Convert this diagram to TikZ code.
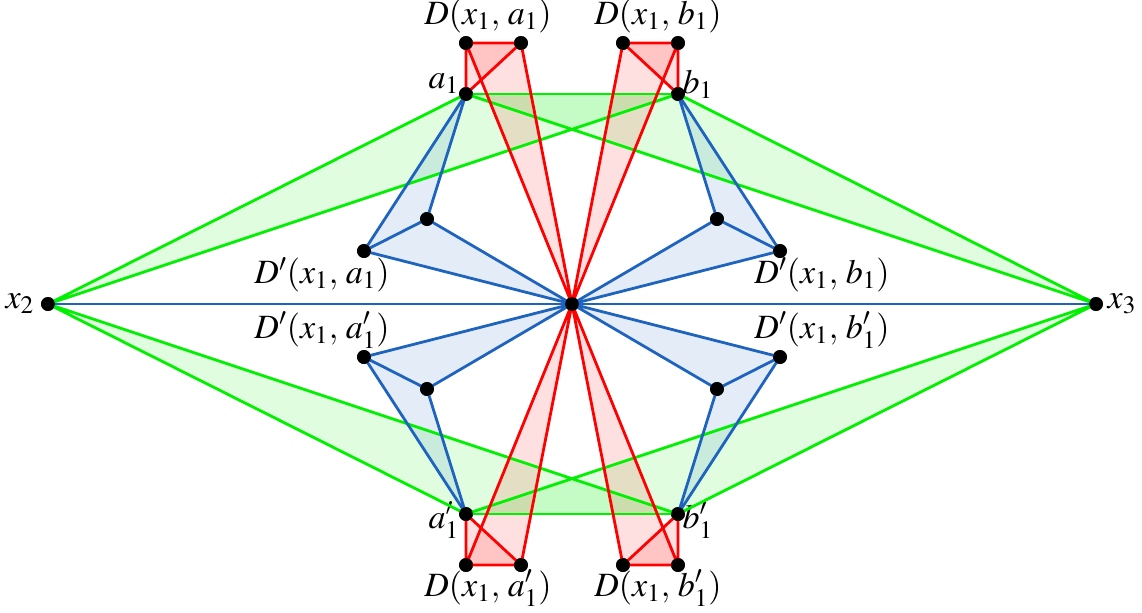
\documentclass[tikz,border=0pt]{standalone}
\usepackage{mathptmx}
\usepackage{tikz}
\definecolor{lred}{RGB}{255,0,0}
\definecolor{lgreen}{RGB}{0,240,0}
\definecolor{lblue}{RGB}{30,100,190}

\tikzset{
  dot/.style={circle,fill=black,inner sep=0pt,minimum size=7pt},
  redline/.style={draw=lred,line width=1.4pt},
  greenline/.style={draw=lgreen,line width=1.4pt},
  blueline/.style={draw=lblue,line width=1.4pt},
  redfill/.style={fill=lred,fill opacity=0.12},
  greenfill/.style={fill=lgreen,fill opacity=0.12},
  bluefill/.style={fill=lblue,fill opacity=0.12},
  lbl/.style={inner sep=0pt,font=\fontsize{17}{20}\selectfont}
}

\begin{document}
\begin{tikzpicture}[line join=round]

\newcommand\YA{105}
\newcommand\YD{130.5}

  \useasboundingbox (-286pt,-154pt) rectangle (285pt,152pt);

  %% points
  \node[dot] (x1) at (0pt,0pt) {};
  \node[dot] (x2) at (-262pt,0pt) {};
  \node[dot] (x3) at ( 262pt,0pt) {};
  \node[dot] (a1)  at (-53pt, \YA pt) {};
  \node[dot] (b1)  at ( 53pt, \YA pt) {};
  \node[dot] (a1p) at (-53pt,-\YA pt) {};
  \node[dot] (b1p) at ( 53pt,-\YA pt) {};

  %% D points
  \node[dot] (Da1A)  at (-53pt, \YD pt) {};
  \node[dot] (Da1B)  at (-25.5pt, \YD pt) {};
  \node[dot] (Db1A)  at ( 25.5pt, \YD pt) {};
  \node[dot] (Db1B)  at ( 53pt, \YD pt) {};
  \node[dot] (Da1pA) at (-53pt,-\YD pt) {};
  \node[dot] (Da1pB) at (-25.5pt,-\YD pt) {};
  \node[dot] (Db1pA) at ( 25.5pt,-\YD pt) {};
  \node[dot] (Db1pB) at ( 53pt,-\YD pt) {};

  %% D' points
  \node[dot] (Ea1A)  at (-104pt, 26.5pt) {};
  \node[dot] (Ea1B)  at (-72.5pt, 42.5pt) {};
  \node[dot] (Eb1A)  at ( 72.5pt, 42.5pt) {};
  \node[dot] (Eb1B)  at ( 104pt, 26.5pt) {};
  \node[dot] (Ea1pA) at (-104pt,-26.5pt) {};
  \node[dot] (Ea1pB) at (-72.5pt,-42.5pt) {};
  \node[dot] (Eb1pA) at ( 72.5pt,-42.5pt) {};
  \node[dot] (Eb1pB) at ( 104pt,-26.5pt) {};

  %% labels
  \node[lbl] (lx2) at (-276pt,0pt) {$x_2$};
  \node[lbl] (lx3) at ( 275pt,0pt) {$x_3$};
  \node[lbl] (la1)  at (-64pt, 110pt) {$a_1$};
  \node[lbl] (lb1)  at ( 63pt, 110pt) {$b_1$};
  \node[lbl] (la1p) at (-64pt,-108pt) {$a'_1$};
  \node[lbl] (lb1p) at ( 63pt,-108pt) {$b'_1$};
  \node[lbl] (lDa1)  at (-42pt, 144pt) {$D(x_1,\,a_1)$};
  \node[lbl] (lDb1)  at ( 43pt, 144pt) {$D(x_1,\,b_1)$};
  \node[lbl] (lDa1p) at (-42pt,-142pt) {$D(x_1,\,a'_1)$};
  \node[lbl] (lDb1p) at ( 43pt,-142pt) {$D(x_1,\,b'_1)$};
  \node[lbl] (lEa1)  at (-125pt, 14.5pt) {$D'(x_1,\,a_1)$};
  \node[lbl] (lEb1)  at ( 125pt, 14.5pt) {$D'(x_1,\,b_1)$};
  \node[lbl] (lEa1p) at (-125pt,-13pt) {$D'(x_1,\,a'_1)$};
  \node[lbl] (lEb1p) at ( 125pt,-13pt) {$D'(x_1,\,b'_1)$};

  %% fills
  \fill[greenfill] (x2.center) -- (a1.center) -- (b1.center) -- cycle;
  \fill[greenfill] (x3.center) -- (a1.center) -- (b1.center) -- cycle;
  \fill[greenfill] (x2.center) -- (a1p.center) -- (b1p.center) -- cycle;
  \fill[greenfill] (x3.center) -- (a1p.center) -- (b1p.center) -- cycle;

  \fill[bluefill] (a1.center) -- (Ea1A.center) -- (Ea1B.center) -- cycle;
  \fill[bluefill] (x1.center) -- (Ea1A.center) -- (Ea1B.center) -- cycle;
  \fill[bluefill] (b1.center) -- (Eb1A.center) -- (Eb1B.center) -- cycle;
  \fill[bluefill] (x1.center) -- (Eb1A.center) -- (Eb1B.center) -- cycle;
  \fill[bluefill] (a1p.center) -- (Ea1pA.center) -- (Ea1pB.center) -- cycle;
  \fill[bluefill] (x1.center) -- (Ea1pA.center) -- (Ea1pB.center) -- cycle;
  \fill[bluefill] (b1p.center) -- (Eb1pA.center) -- (Eb1pB.center) -- cycle;
  \fill[bluefill] (x1.center) -- (Eb1pA.center) -- (Eb1pB.center) -- cycle;

  \fill[redfill] (a1.center) -- (Da1A.center) -- (Da1B.center) -- cycle;
  \fill[redfill] (x1.center) -- (Da1A.center) -- (Da1B.center) -- cycle;
  \fill[redfill] (b1.center) -- (Db1A.center) -- (Db1B.center) -- cycle;
  \fill[redfill] (x1.center) -- (Db1A.center) -- (Db1B.center) -- cycle;
  \fill[redfill] (a1p.center) -- (Da1pA.center) -- (Da1pB.center) -- cycle;
  \fill[redfill] (x1.center) -- (Da1pA.center) -- (Da1pB.center) -- cycle;
  \fill[redfill] (b1p.center) -- (Db1pA.center) -- (Db1pB.center) -- cycle;
  \fill[redfill] (x1.center) -- (Db1pA.center) -- (Db1pB.center) -- cycle;

  %% green lines
  \draw[greenline] (x2.center) -- (a1.center) -- (x3.center) -- (b1.center) -- (x2.center);
  \draw[greenline] (a1.center) -- (b1.center);
  \draw[greenline] (x2.center) -- (a1p.center) -- (x3.center) -- (b1p.center) -- (x2.center);
  \draw[greenline] (a1p.center) -- (b1p.center);

  %% blue lines
  \draw[blueline] (x2.center) -- (x3.center);
  \draw[blueline] (Ea1A.center) -- (a1.center) -- (Ea1B.center) -- (Ea1A.center) -- (x1.center) -- (Ea1B.center);
  \draw[blueline] (Eb1A.center) -- (b1.center) -- (Eb1B.center) -- (Eb1A.center) -- (x1.center) -- (Eb1B.center);
  \draw[blueline] (Ea1pA.center) -- (a1p.center) -- (Ea1pB.center) -- (Ea1pA.center) -- (x1.center) -- (Ea1pB.center);
  \draw[blueline] (Eb1pA.center) -- (b1p.center) -- (Eb1pB.center) -- (Eb1pA.center) -- (x1.center) -- (Eb1pB.center);

  %% red lines
  \draw[redline] (Da1A.center) -- (a1.center) -- (Da1B.center) -- (Da1A.center) -- (x1.center) -- (Da1B.center);
  \draw[redline] (Db1A.center) -- (b1.center) -- (Db1B.center) -- (Db1A.center) -- (x1.center) -- (Db1B.center);
  \draw[redline] (Da1pA.center) -- (a1p.center) -- (Da1pB.center) -- (Da1pA.center) -- (x1.center) -- (Da1pB.center);
  \draw[redline] (Db1pA.center) -- (b1p.center) -- (Db1pB.center) -- (Db1pA.center) -- (x1.center) -- (Db1pB.center);

  %% dots on top
  \foreach \p in {x1,x2,x3,a1,b1,a1p,b1p,Da1A,Da1B,Db1A,Db1B,Da1pA,Da1pB,Db1pA,Db1pB,
                  Ea1A,Ea1B,Eb1A,Eb1B,Ea1pA,Ea1pB,Eb1pA,Eb1pB}
    \fill (\p.center) circle (3.4pt);

\end{tikzpicture}
\end{document}
